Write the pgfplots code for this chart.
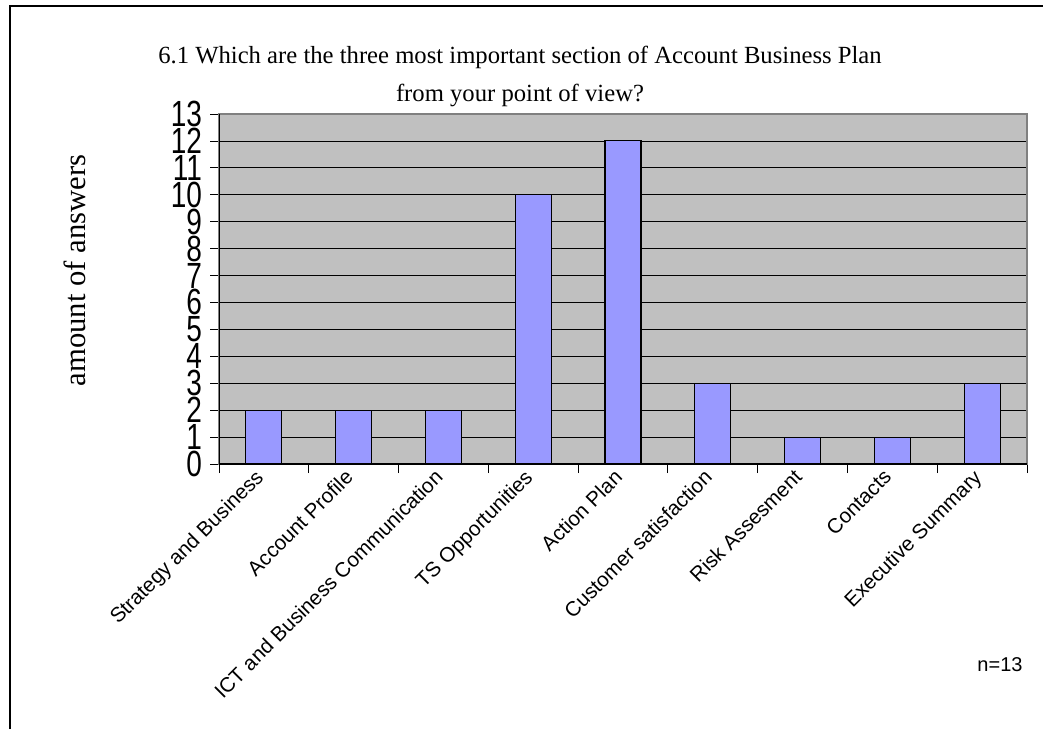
\documentclass[border=0pt]{standalone}
\usepackage{pgfplots}
\pgfplotsset{compat=1.18}
\usepackage{fontspec}
\setmainfont{Liberation Serif}
\newfontfamily\arial{Liberation Sans}
\definecolor{barblue}{HTML}{9999FF}
\definecolor{plotgray}{HTML}{C0C0C0}
\definecolor{bordergray}{HTML}{808080}
\begin{document}
\begin{tikzpicture}[x=1pt,y=1pt]
\path[use as bounding box] (0,0) rectangle (782.25,546.75);
\draw[line width=0.9pt] (7.5,0) -- (7.5,542.25) -- (782.25,542.25);
\begin{axis}[
  at={(164.25pt,198.75pt)}, anchor=south west,
  scale only axis, width=606pt, height=262.5pt,
  xmin=-0.5, xmax=8.5, ymin=0, ymax=13,
  axis background/.style={fill=plotgray},
  axis line style={draw=bordergray, line width=0.8pt},
  ytick={0,...,13},
  yticklabel={\scalebox{1}[1.3]{\pgfmathprintnumber{\tick}}},
  ymajorgrids, major grid style={black, line width=0.6pt},
  xtick={-0.5,0.5,...,8.5},
  xticklabels={},
  extra x ticks={0,...,8},
  extra x tick labels={Strategy and Business, Account Profile, ICT and Business Communication, TS Opportunities, Action Plan, Customer satisfaction, Risk Assesment, Contacts, Executive Summary},
  extra x tick style={major tick length=0pt, xticklabel style={font=\arial\fontsize{15.5}{15.5}\selectfont, xshift=-7.5pt, rotate=45, anchor=north east}},
  xtick pos=bottom, ytick pos=left,
  tick align=outside,
  major tick length=6.75pt,
  tick style={black, line width=0.6pt},
  /pgf/number format/assume math mode=true,
  yticklabel style={font=\arial\fontsize{21}{21}\selectfont, xshift=-2.5pt},
  x tick label style={inner sep=2pt},
]
\addplot[ybar, bar width=27pt, fill=barblue, draw=black, line width=0.8pt] coordinates {(0,2) (1,2) (2,2) (3,10) (4,12) (5,3) (6,1) (7,1) (8,3)};
\draw[black, line width=0.8pt] (rel axis cs:0,1) -- (rel axis cs:0,0) -- (rel axis cs:1,0);
\end{axis}
\node[font=\fontsize{18.5}{18.5}\selectfont] at (390,504) {6.1 Which are the three most important section of Account Business Plan};
\node[font=\fontsize{18.5}{18.5}\selectfont] at (390,475.5) {from your point of view?};
\node[font=\fontsize{23}{23}\selectfont, rotate=90] at (56,344) {amount of answers};
\node[font=\arial\fontsize{15}{15}\selectfont] at (750,48) {n=13};
\end{tikzpicture}
\end{document}
